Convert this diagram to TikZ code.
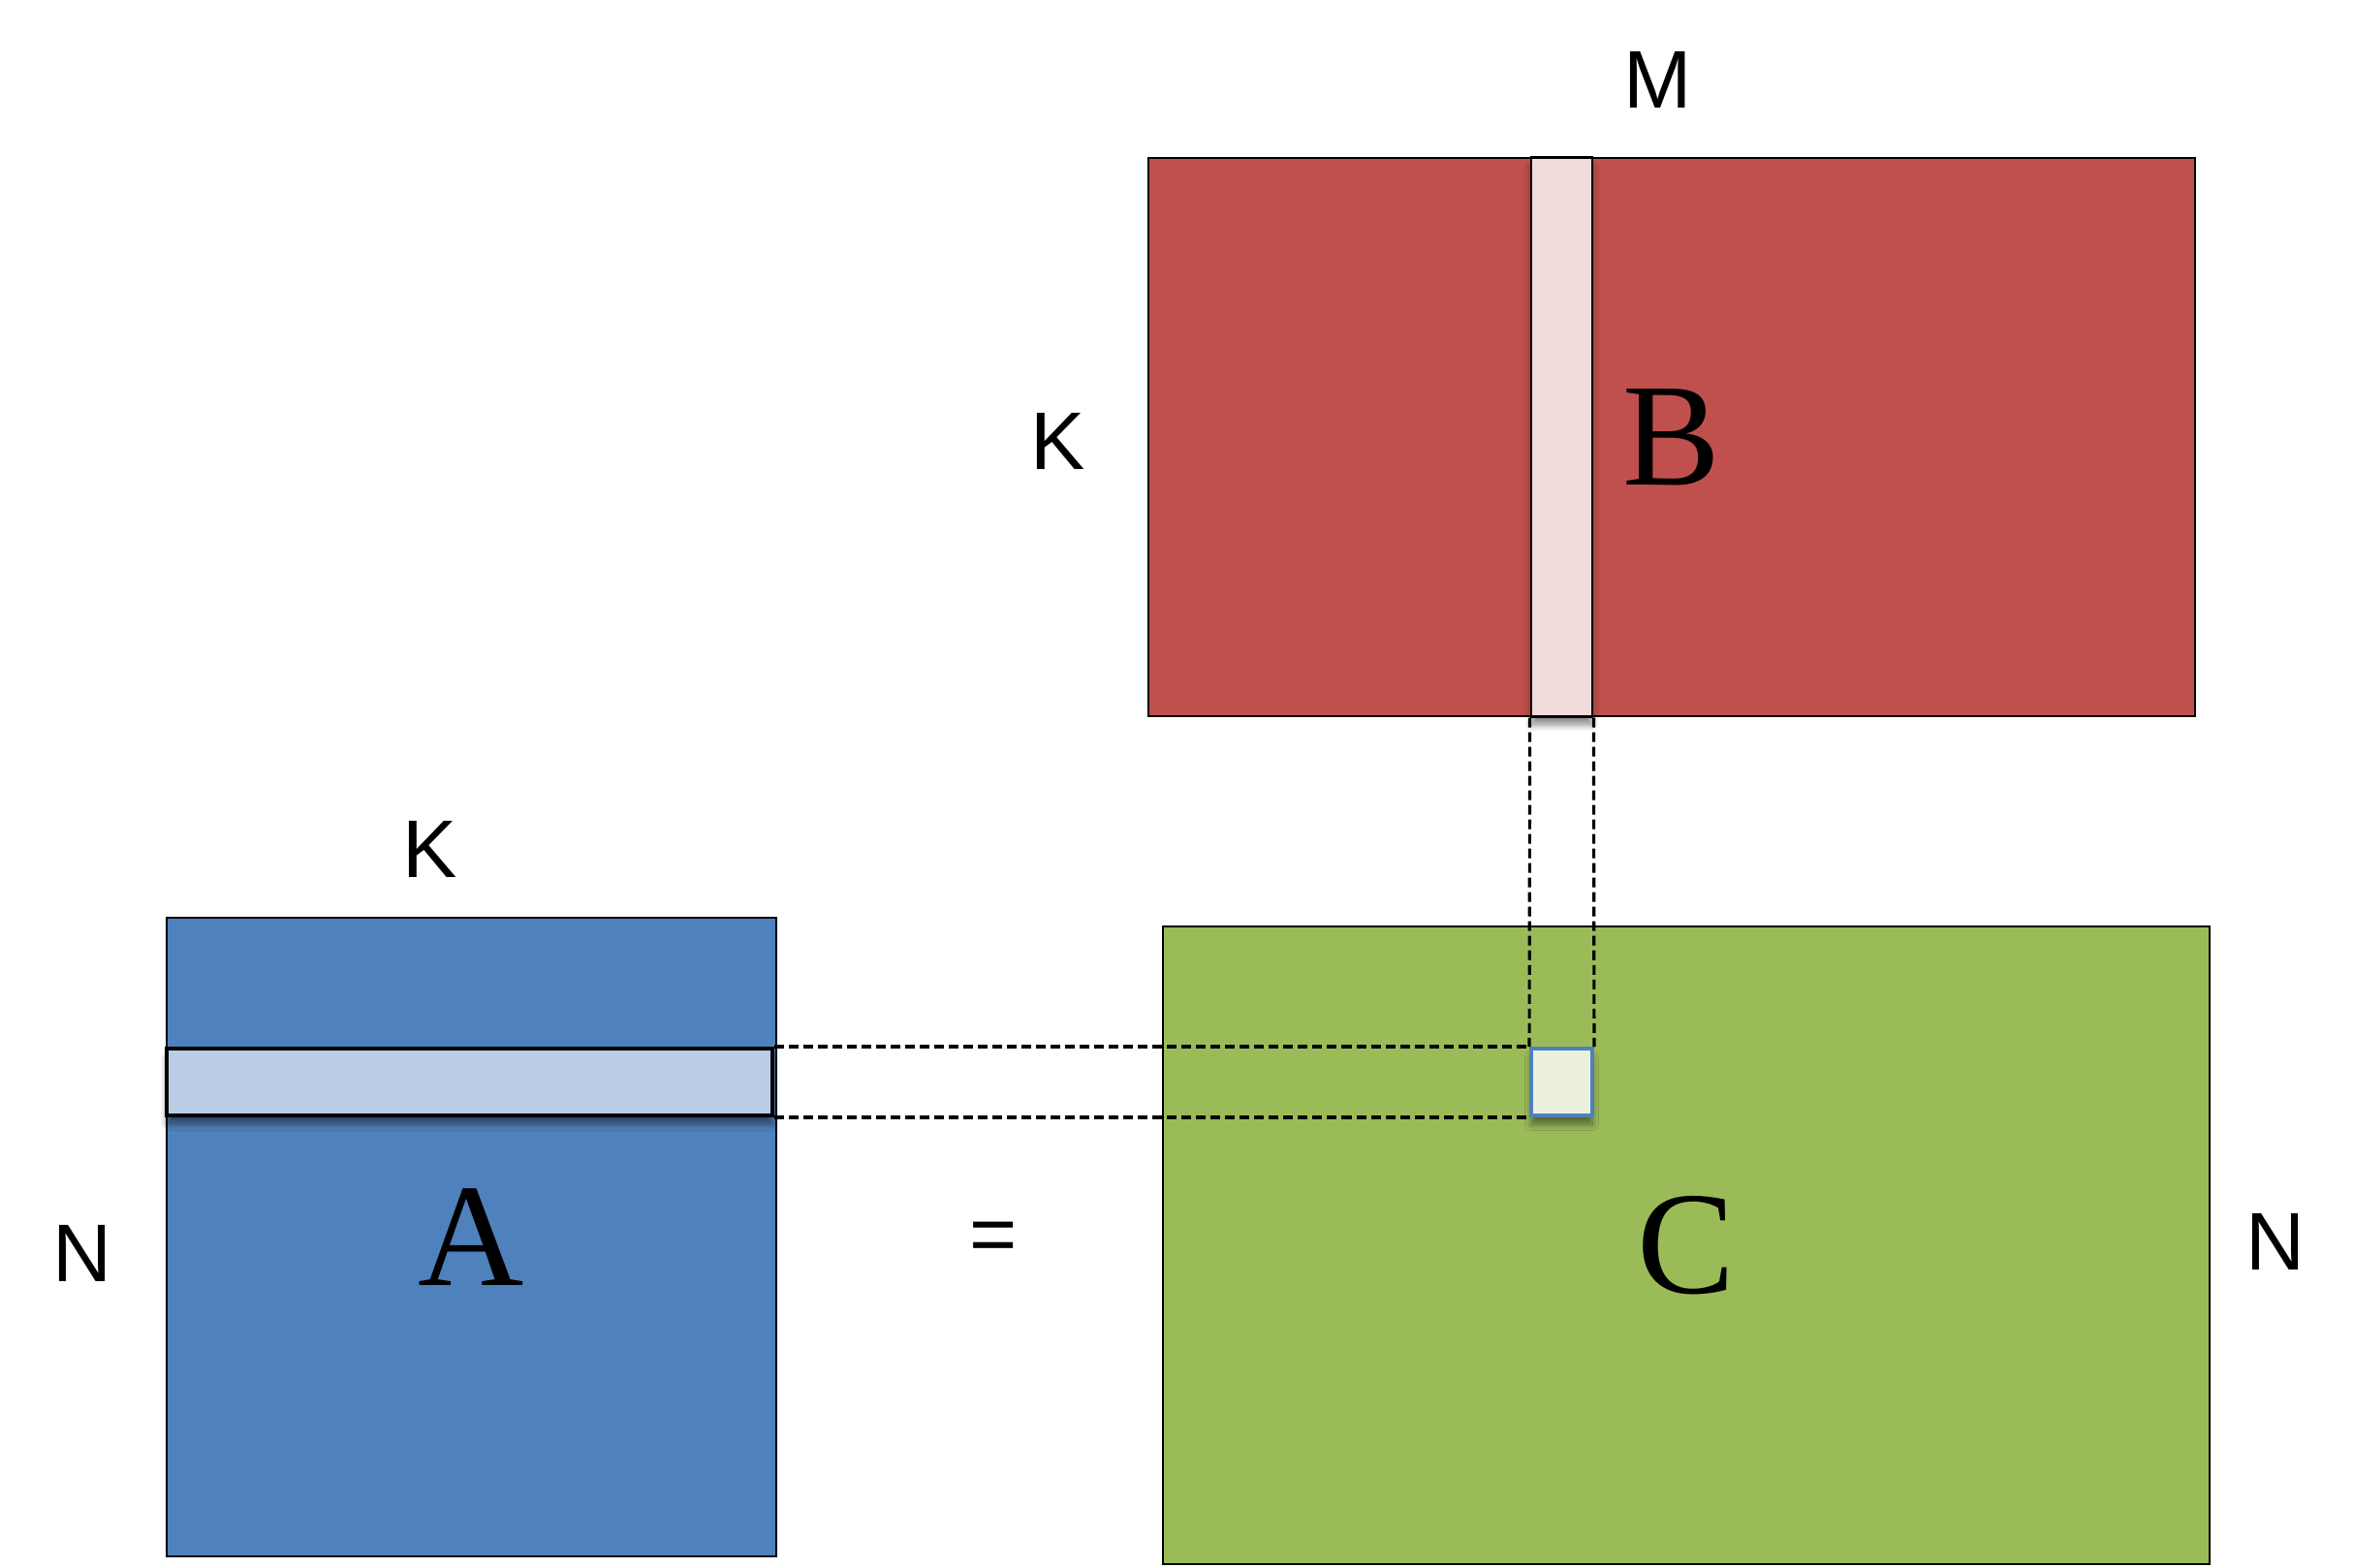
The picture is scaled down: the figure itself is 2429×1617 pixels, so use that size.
\documentclass[tikz,border=0pt]{standalone}
\usepackage{fontspec}
\setmainfont{Liberation Serif}
\setsansfont{Liberation Sans}
\usetikzlibrary{shadows.blur}
\definecolor{matblue}{HTML}{4F81BD}
\definecolor{rowblue}{HTML}{B9CDE5}
\definecolor{matred}{HTML}{C0504D}
\definecolor{colred}{HTML}{F2DCDB}
\definecolor{matgreen}{HTML}{9BBB59}
\definecolor{cellgreen}{HTML}{EBF1DE}
\tikzset{
	matbox/.style={draw=black,line width=0.6pt,inner sep=0pt,
		font=\fontsize{43}{50}\selectfont},
	slice/.style={draw=black,line width=1.1pt,inner sep=0pt,
		blur shadow={shadow xshift=0pt,shadow yshift=-0.09cm,shadow blur steps=8,shadow opacity=45}},
	dimlabel/.style={font=\sffamily\fontsize{24}{28}\selectfont,inner sep=0pt,anchor=base},
	guide/.style={dash pattern=on 0.1cm off 0.05cm,line width=0.9pt}
}
\begin{document}
\begin{tikzpicture}[x=0.01cm,y=-0.01cm]
				\useasboundingbox (0,0) rectangle (2429,1617);
				% the three matrices
				\node[matbox,fill=matblue,minimum width=6.29cm,minimum height=6.59cm] (A) at (486.5,1276.5) {A};
				\node[matbox,fill=matred,minimum width=10.8cm,minimum height=5.76cm] (B) at (1725,451) {B};
				\node[matbox,fill=matgreen,minimum width=10.8cm,minimum height=6.58cm] (C) at (1740,1285) {C};
				% row, column and cell
				\node[slice,fill=rowblue,minimum width=6.25cm,minimum height=0.69cm] (Arow) at (484.5,1116.5) {};
				\node[slice,line width=0.8pt,fill=colred,minimum width=0.63cm,minimum height=5.76cm] (Bcol) at (1611.5,451) {};
				\node[slice,draw=matblue,fill=cellgreen,minimum width=0.63cm,minimum height=0.69cm] (Ccell) at (1611.5,1116.5) {};
				\draw[guide] (Arow.north east) -- (Ccell.north west);
				\draw[guide] (Arow.south east) -- (Ccell.south west);
				\draw[guide] (Bcol.south west) -- (Ccell.north west);
				\draw[guide] (Bcol.south east) -- (Ccell.north east);
				% dimensions
				\node[dimlabel] (M) at (1711,111) {M};
				\node[dimlabel] (KB) at (1092,484) {K};
				\node[dimlabel] (KA) at (444,905) {K};
				\node[dimlabel] (NA) at (85,1322) {N};
				\node[dimlabel] (NC) at (2348,1310) {N};
				\node[dimlabel] (eq) at (1025,1302) {=};
			\end{tikzpicture}
\end{document}
